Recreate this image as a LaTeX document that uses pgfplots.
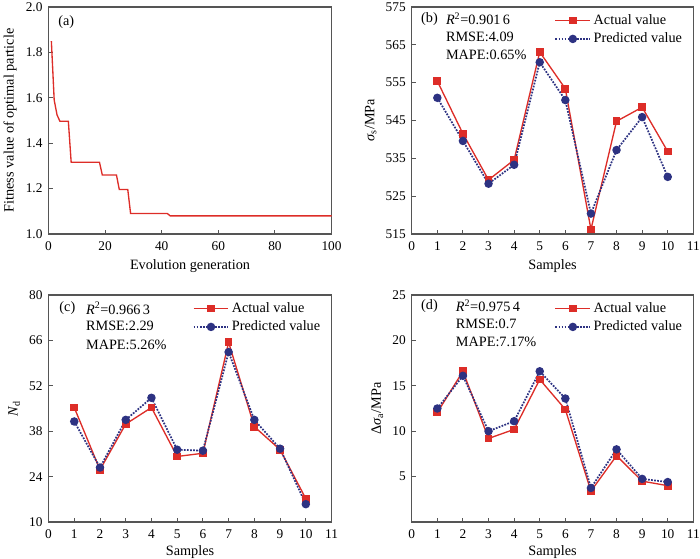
\documentclass[border=0pt]{standalone}
\usepackage{fontspec}
\setmainfont{Liberation Serif}
\usepackage{pgfplots}
\pgfplotsset{compat=1.18}
\definecolor{cred}{RGB}{221,45,40}
\definecolor{cblue}{RGB}{45,50,130}
\definecolor{axgray}{RGB}{85,85,85}
\newcommand{\lbf}{\fontsize{10.7}{13}\selectfont}
\pgfplotsset{
  myax/.style={
    scale only axis,
    anchor=south west,
    height=170.25pt,
    axis line style={axgray, line width=0.8pt},
    tick style={axgray, line width=0.7pt},
    tick align=inside,
    xtick pos=bottom, ytick pos=left,
    major tick length=3pt,
    tick label style={font=\fontsize{10}{12}\selectfont},
    label style={font=\lbf},
    /pgf/number format/assume math mode=true,
    xticklabel style={yshift=-2pt},
    yticklabel style={xshift=-1pt},
    legend style={draw=none, fill=none, at={(0.975,0.985)}, anchor=north east,
      font=\lbf, cells={anchor=west}, row sep=0.8pt, inner sep=1pt},
    legend image code/.code={\draw[mark repeat=2,mark phase=2,##1] plot coordinates {(0pt,0pt)(13pt,0pt)(26pt,0pt)};},
  },
  samp/.style={xmin=0, xmax=11, xtick={0,1,...,11}, xlabel={Samples}},
  actual/.style={cred, line width=1pt, mark=square*, mark size=2.4pt, mark options={solid}},
  pred/.style={cblue, line width=1.3pt, densely dotted, mark=*, mark size=2.5pt, mark options={solid}},
}
\begin{document}
\begin{tikzpicture}
\path[use as bounding box] (0,0) rectangle (525pt,418.5pt);

% (a)
\begin{axis}[myax, at={(36.4pt,243pt)}, width=212.25pt,
  xmin=0, xmax=100, xtick={0,20,...,100},
  ymin=1.0, ymax=2.0, ytick={1.0,1.2,...,2.0},
  yticklabel style={/pgf/number format/.cd, fixed, fixed zerofill, precision=1},
  xlabel={Evolution generation}, ylabel={Fitness value of optimal particle}]
\addplot[cred, line width=1pt] coordinates {
(1,1.85)(2,1.59)(3,1.525)(4,1.497)(7,1.497)(8,1.316)(18,1.316)(19,1.26)(24,1.26)
(25,1.196)(28,1.196)(29,1.09)(42,1.09)(43,1.08)(100,1.08)};
\node[anchor=west, font=\lbf] at (rel axis cs:0.018,0.935) {(a)};
\end{axis}

% (b)
\begin{axis}[myax, samp, at={(308.8pt,243pt)}, width=211.2pt,
  ymin=515, ymax=575, ytick={515,525,...,575},
  ylabel={\textit{σ}\textsubscript{s}/MPa}]
\addplot[actual] coordinates {
(1,555.4)(2,541.5)(3,529.3)(4,534.6)(5,563.1)(6,553.4)(7,516.2)(8,544.8)(9,548.5)(10,536.8)};
\addlegendentry{Actual value}
\addplot[pred] coordinates {
(1,551.0)(2,539.6)(3,528.3)(4,533.3)(5,560.4)(6,550.4)(7,520.4)(8,537.2)(9,545.9)(10,530.1)};
\addlegendentry{Predicted value}
\node[anchor=west, font=\lbf] at (rel axis cs:0.017,0.947) {(b)};
\node[anchor=west, font=\lbf] at (rel axis cs:0.105,0.947) {\textit{R}\textsuperscript{2}=0.901\,6};
\node[anchor=west, font=\lbf] at (rel axis cs:0.105,0.869) {RMSE:4.09};
\node[anchor=west, font=\lbf] at (rel axis cs:0.105,0.789) {MAPE:0.65\%};
\end{axis}

% (c)
\begin{axis}[myax, samp, at={(36.4pt,27pt)}, width=212.25pt,
  xlabel style={yshift=1.5pt},
  ymin=10, ymax=80, ytick={10,24,38,52,66,80},
  ylabel={\textit{N}\textsubscript{d}}]
\addplot[actual] coordinates {
(1,45.3)(2,26.1)(3,40.2)(4,45.3)(5,30.2)(6,31.2)(7,65.4)(8,39.4)(9,32.3)(10,17.2)};
\addlegendentry{Actual value}
\addplot[pred] coordinates {
(1,41.0)(2,26.8)(3,41.5)(4,48.3)(5,32.3)(6,32.0)(7,62.4)(8,41.5)(9,32.6)(10,15.5)};
\addlegendentry{Predicted value}
\node[anchor=west, font=\lbf] at (rel axis cs:0.022,0.941) {(c)};
\node[anchor=west, font=\lbf] at (rel axis cs:0.116,0.941) {\textit{R}\textsuperscript{2}=0.966\,3};
\node[anchor=west, font=\lbf] at (rel axis cs:0.116,0.862) {RMSE:2.29};
\node[anchor=west, font=\lbf] at (rel axis cs:0.116,0.78) {MAPE:5.26\%};
\end{axis}

% (d)
\begin{axis}[myax, samp, at={(308.8pt,27pt)}, width=211.2pt,
  xlabel style={yshift=1.5pt},
  ymin=0, ymax=25, ytick={5,10,...,25},
  ylabel={Δ\textit{σ}\textsubscript{a}/MPa}]
\addplot[actual] coordinates {
(1,12.06)(2,16.6)(3,9.2)(4,10.2)(5,15.7)(6,12.4)(7,3.4)(8,7.3)(9,4.5)(10,4.0)};
\addlegendentry{Actual value}
\addplot[pred] coordinates {
(1,12.5)(2,16.1)(3,10.0)(4,11.1)(5,16.6)(6,13.6)(7,3.75)(8,8.0)(9,4.75)(10,4.4)};
\addlegendentry{Predicted value}
\node[anchor=west, font=\lbf] at (rel axis cs:0.017,0.952) {(d)};
\node[anchor=west, font=\lbf] at (rel axis cs:0.14,0.952) {\textit{R}\textsuperscript{2}=0.975\,4};
\node[anchor=west, font=\lbf] at (rel axis cs:0.14,0.875) {RMSE:0.7};
\node[anchor=west, font=\lbf] at (rel axis cs:0.14,0.795) {MAPE:7.17\%};
\end{axis}
\end{tikzpicture}
\end{document}
